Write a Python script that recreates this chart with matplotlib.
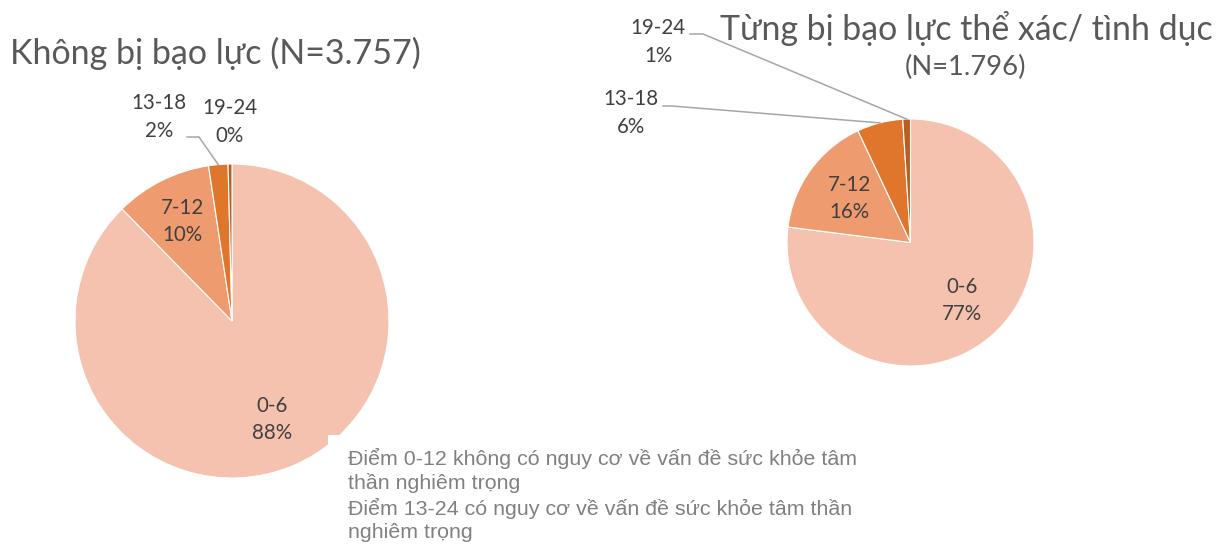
import numpy as np
import matplotlib
matplotlib.use('Agg')
import matplotlib.pyplot as plt

W, H = 1232, 546

groups = ['0-6', '7-12', '13-18', '19-24']
colors = ['#F4C2AF', '#EF9B70', '#E0762C', '#B95E22']

# share of each score group (%)
no_violence = [88, 10, 2, 0.4]
violence = [77, 16, 6, 1]

title_left = 'Không bị bạo lực (N=3.757)'
title_right = 'Từng bị bạo lực thể xác/ tình dục'
subtitle_right = '(N=1.796)'
note = ('Điểm 0-12 không có nguy cơ về vấn đề sức khỏe tâm\n'
        'thần nghiêm trọng\n'
        'Điểm 13-24 có nguy cơ về vấn đề sức khỏe tâm thần\n'
        'nghiêm trọng')

label_font = 'Lato'
label_size = 14.8
text_color = '#404040'
line_color = '#A6A6A6'

fig = plt.figure(figsize=(W / 100, H / 100), dpi=100)
ax = fig.add_axes([0, 0, 1, 1])


def draw_pie(values, center, radius, inner_dist, outer_labels):
    # center given in pixels from the top-left corner
    cx, cy = center[0], H - center[1]
    wedges, _ = ax.pie(values, colors=colors, startangle=90, counterclock=False,
                       center=(cx, cy), radius=radius,
                       wedgeprops=dict(edgecolor='white', linewidth=0.8))
    for i, w in enumerate(wedges):
        mid = np.deg2rad((w.theta1 + w.theta2) / 2)
        pct = values[i] / sum(values) * 100
        txt = f'{groups[i]}\n{pct:.0f}%'
        if i in outer_labels:
            (tx, ty), elbow = outer_labels[i]
            ax.text(tx, H - ty, txt, ha='center', va='center', fontsize=label_size,
                    family=label_font, color=text_color, linespacing=1.45)
            if elbow is not None:
                rx = cx + radius * np.cos(mid)
                ry = cy + radius * np.sin(mid)
                xs = [elbow[0][0], elbow[1][0], rx]
                ys = [H - elbow[0][1], H - elbow[1][1], ry]
                ax.plot(xs, ys, color=line_color, lw=1.1)
        else:
            x = cx + inner_dist[i] * radius * np.cos(mid)
            y = cy + inner_dist[i] * radius * np.sin(mid)
            ax.text(x, y, txt, ha='center', va='center', fontsize=label_size,
                    family=label_font, color=text_color, linespacing=1.45)


draw_pie(no_violence, (232, 321), 157, {0: 0.68, 1: 0.71},
         {2: ((159, 117), ((187, 137), (199, 137))),
          3: ((230, 122), None)})
draw_pie(violence, (910.5, 242.5), 123.5, {0: 0.63, 1: 0.61},
         {2: ((631, 113), ((663, 106), (672, 106))),
          3: ((658, 42), ((690, 34), (703, 34)))})

ax.set_xlim(0, W)
ax.set_ylim(0, H)
ax.set_aspect('equal')
ax.axis('off')

ax.text(10, H - 53, title_left, ha='left', va='center', fontsize=24.5,
        family=label_font, color='#595959')
ax.text(1213, H - 29, title_right, ha='right', va='center', fontsize=24.4,
        family=label_font, color='#595959')
ax.text(966, H - 67, subtitle_right, ha='center', va='center', fontsize=19.7,
        family=label_font, color='#595959')

# white note box sits on top of the left pie's edge
ax.add_patch(plt.Rectangle((328, 0), 560, H - 435, facecolor='white',
                           edgecolor='none', zorder=5))
ax.text(348, H - 448, note, ha='left', va='top', fontsize=15.4,
        family='Liberation Sans', color='#808080', linespacing=1.26, zorder=6)

fig.savefig('out.png', dpi=100, facecolor='white')
